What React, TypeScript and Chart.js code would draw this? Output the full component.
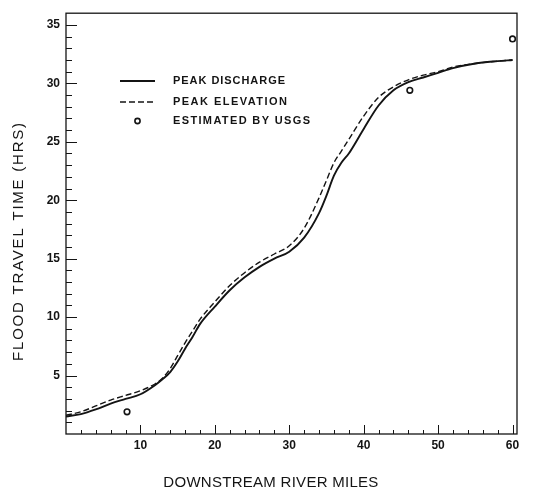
import React, { useEffect, useRef } from 'react';
import { Chart, registerables } from 'chart.js';

Chart.register(...registerables);

const miles = [0, 2, 4, 6, 8, 10, 12, 13, 14, 15, 16, 17, 18, 20, 22, 24, 26, 28, 30, 32, 34, 35, 36, 37, 38, 40, 42, 44, 46, 48, 50, 52, 55, 58, 60];
const peakDischarge = [1.5, 1.7, 2.1, 2.6, 3.0, 3.4, 4.2, 4.7, 5.3, 6.2, 7.3, 8.3, 9.4, 10.9, 12.3, 13.4, 14.3, 15.0, 15.6, 16.8, 18.9, 20.4, 22.1, 23.2, 24.0, 26.1, 28.1, 29.4, 30.1, 30.5, 30.9, 31.3, 31.7, 31.9, 32.0];
const peakElevation = [1.6, 1.9, 2.4, 2.9, 3.3, 3.7, 4.3, 4.8, 5.6, 6.7, 7.8, 8.8, 9.8, 11.3, 12.7, 13.8, 14.7, 15.4, 16.1, 17.6, 20.2, 21.7, 23.2, 24.2, 25.2, 27.2, 28.8, 29.7, 30.3, 30.7, 31.0, 31.4, 31.7, 31.9, 32.0];
const usgsMiles = [8.2, 46.2, 60];
const usgsHours = [1.9, 29.4, 33.8];

const xMajorTicks = [10, 20, 30, 40, 50, 60];
const yMajorTicks = [5, 10, 15, 20, 25, 30, 35];
const xMinorStep = 2;
const yMinorStep = 1;

const legendLabels = ['PEAK DISCHARGE', 'PEAK ELEVATION', 'ESTIMATED BY USGS'];
const xTitle = 'DOWNSTREAM RIVER MILES';
const yTitle = 'FLOOD TRAVEL TIME (HRS)';

const INK = '#141414';

function fitText(ctx: CanvasRenderingContext2D, text: string, target: number) {
  ctx.letterSpacing = '0px';
  const w = ctx.measureText(text).width;
  const sp = Math.max(0, (target - w) / Math.max(1, text.length - 1));
  ctx.letterSpacing = sp + 'px';
  return sp;
}

const decorPlugin = {
  id: 'decor',
  afterDraw(chart: any) {
    const { ctx, chartArea, scales } = chart;
    const { left, right, top, bottom } = chartArea;
    const xs = scales.x;
    const ys = scales.y;
    ctx.save();
    ctx.strokeStyle = INK;
    ctx.lineWidth = 1.3;
    ctx.strokeRect(left, top, right - left, bottom - top);

    // inward ticks
    ctx.lineWidth = 1;
    ctx.beginPath();
    for (let v = xMinorStep; v <= 60; v += xMinorStep) {
      const px = Math.round(xs.getPixelForValue(v)) + 0.5;
      const len = xMajorTicks.includes(v) ? 9 : 4;
      ctx.moveTo(px, bottom);
      ctx.lineTo(px, bottom - len);
    }
    for (let v = yMinorStep; v <= 35; v += yMinorStep) {
      const py = Math.round(ys.getPixelForValue(v)) + 0.5;
      const len = yMajorTicks.includes(v) ? 11 : 6;
      ctx.moveTo(left, py);
      ctx.lineTo(left + len, py);
    }
    ctx.stroke();

    // legend
    const lx0 = 120, lx1 = 155, tx = 173;
    const rows = [81, 102, 121];
    ctx.strokeStyle = INK;
    ctx.lineWidth = 1.8;
    ctx.beginPath();
    ctx.moveTo(lx0, rows[0]);
    ctx.lineTo(lx1, rows[0]);
    ctx.stroke();
    ctx.setLineDash([6, 3]);
    ctx.lineWidth = 1.4;
    ctx.beginPath();
    ctx.moveTo(lx0, rows[1]);
    ctx.lineTo(lx1, rows[1]);
    ctx.stroke();
    ctx.setLineDash([]);
    ctx.lineWidth = 1.6;
    ctx.beginPath();
    ctx.arc(137.5, rows[2], 2.6, 0, Math.PI * 2);
    ctx.stroke();

    ctx.fillStyle = INK;
    ctx.font = 'bold 11px "Liberation Sans"';
    ctx.textAlign = 'left';
    ctx.textBaseline = 'middle';
    const targets = [112, 114, 137];
    legendLabels.forEach((t, i) => {
      fitText(ctx, t, targets[i]);
      ctx.fillText(t, tx, rows[i]);
    });

    // axis titles
    ctx.font = '15px "Liberation Sans"';
    ctx.textAlign = 'center';
    ctx.textBaseline = 'middle';
    fitText(ctx, xTitle, 215);
    ctx.fillText(xTitle, 271, 483);

    ctx.save();
    ctx.translate(19, 241);
    ctx.rotate(-Math.PI / 2);
    fitText(ctx, yTitle, 238);
    ctx.fillText(yTitle, 0, 0);
    ctx.restore();

    ctx.restore();
  },
};

export default function App() {
  const ref = useRef<HTMLCanvasElement>(null);

  useEffect(() => {
    document.body.style.margin = '0';
    const canvas = ref.current;
    if (!canvas) return;
    const tickFont = { family: '"Liberation Sans"', size: 12, weight: 'bold' as const };
    const chart = new Chart(canvas, {
      type: 'line',
      data: {
        datasets: [
          {
            label: legendLabels[0],
            data: miles.map((m, i) => ({ x: m, y: peakDischarge[i] })),
            borderColor: INK,
            borderWidth: 1.9,
            pointRadius: 0,
            cubicInterpolationMode: 'monotone',
            fill: false,
          },
          {
            label: legendLabels[1],
            data: miles.map((m, i) => ({ x: m, y: peakElevation[i] })),
            borderColor: INK,
            borderWidth: 1.4,
            borderDash: [6, 3],
            pointRadius: 0,
            cubicInterpolationMode: 'monotone',
            fill: false,
          },
          {
            label: legendLabels[2],
            type: 'scatter' as any,
            data: usgsMiles.map((m, i) => ({ x: m, y: usgsHours[i] })),
            borderColor: INK,
            backgroundColor: 'rgba(0,0,0,0)',
            borderWidth: 1.6,
            pointRadius: 2.8,
            showLine: false,
          },
        ],
      },
      options: {
        animation: false,
        responsive: false,
        devicePixelRatio: 1,
        layout: { padding: { top: 9, right: 20, left: 0, bottom: 0 } },
        plugins: {
          legend: { display: false },
          tooltip: { enabled: false },
          title: { display: false },
        },
        scales: {
          x: {
            type: 'linear',
            min: 0,
            max: 60.6,
            afterBuildTicks: (s: any) => {
              s.ticks = xMajorTicks.map((v) => ({ value: v }));
            },
            afterFit: (s: any) => {
              s.height = 59;
            },
            ticks: {
              autoSkip: false,
              maxRotation: 0,
              padding: 4,
              color: INK,
              font: tickFont,
              callback: (v: any) => String(v),
            },
            grid: { display: false, drawTicks: false },
            border: { display: false },
          },
          y: {
            type: 'linear',
            min: 0,
            max: 36,
            afterBuildTicks: (s: any) => {
              s.ticks = yMajorTicks.map((v) => ({ value: v }));
            },
            afterFit: (s: any) => {
              s.width = 66;
            },
            ticks: {
              autoSkip: false,
              padding: 6,
              color: INK,
              font: tickFont,
              callback: (v: any) => String(v),
            },
            grid: { display: false, drawTicks: false },
            border: { display: false },
          },
        },
      },
      plugins: [decorPlugin],
    });
    return () => chart.destroy();
  }, []);

  return (
    <div style={{ position: 'fixed', left: 0, top: 0, width: 537, height: 493, background: '#fff' }}>
      <canvas ref={ref} width={537} height={493} style={{ width: 537, height: 493, display: 'block' }} />
    </div>
  );
}
